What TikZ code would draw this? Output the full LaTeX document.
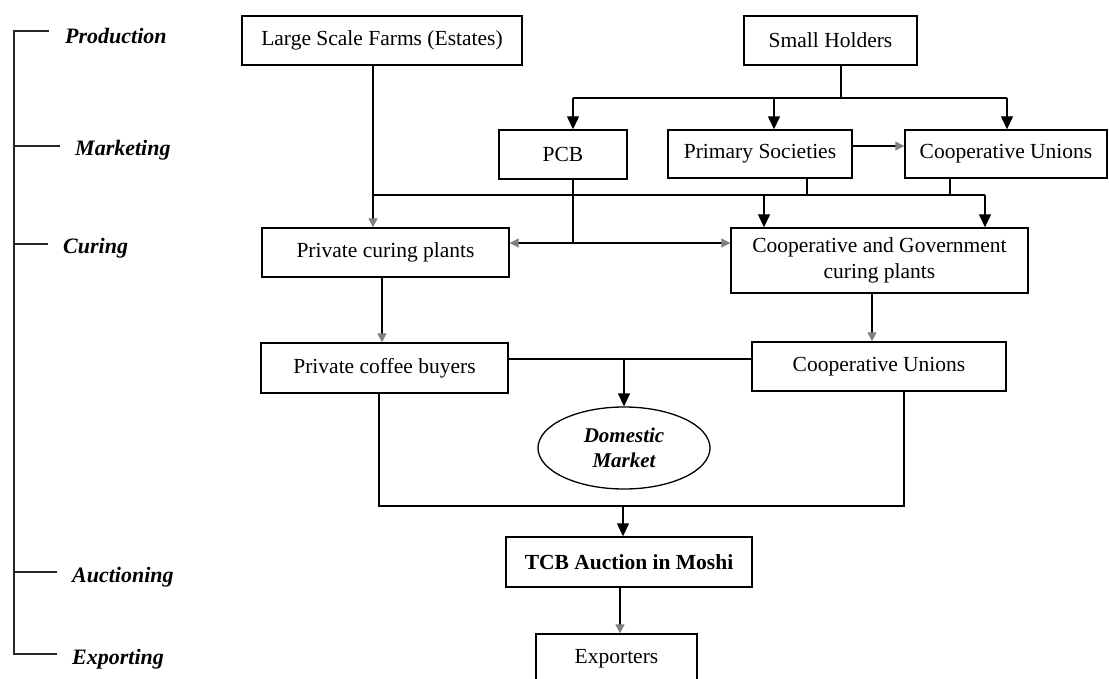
\documentclass[tikz,border=0pt]{standalone}
\usepackage{fontspec}
\setmainfont{Liberation Serif}
\usetikzlibrary{arrows.meta,shapes.geometric}
\begin{document}
\begin{tikzpicture}[x=1pt,y=-1pt,
  box/.style={draw, line width=1.4pt, inner sep=0pt, align=center,
    font=\fontsize{21.5}{26}\selectfont},
  ln/.style={line width=1.3pt},
  arr/.style={ln, -{Triangle[width=12pt,length=13pt]}},
  farr/.style={ln, -{Triangle[width=9pt,length=9pt,color=black!50]}},
  farrboth/.style={ln, {Triangle[width=9pt,length=9pt,color=black!50]}-{Triangle[width=9pt,length=9pt,color=black!50]}},
  stage/.style={anchor=west, inner sep=0pt, font=\fontsize{22}{25}\selectfont\bfseries\itshape},
  tick/.style={line width=1.3pt, black!85}]
\useasboundingbox (0,0) rectangle (1109,679);

% stage axis on the left
\draw[tick] (49,31) -- (14,31) -- (14,654) -- (57,654);
\draw[tick] (14,146) -- (60,146);
\draw[tick] (14,244) -- (48,244);
\draw[tick] (14,572) -- (57,572);
\node[stage] (lprod) at (65,36) {Production};
\node[stage] (lmark) at (75,150) {Marketing};
\node[stage] (lcure) at (63,248) {Curing};
\node[stage] (lauct) at (72,577) {Auctioning};
\node[stage] (lexp)  at (72,659) {Exporting};

% boxes
\node[box, minimum width=280pt, minimum height=49pt] (large) at (382,40.5) {Large Scale Farms (Estates)};
\node[box, minimum width=173pt, minimum height=49pt] (small) at (830.5,40.5) {Small Holders};
\node[box, minimum width=128pt, minimum height=49pt] (pcb) at (563,154.5) {PCB};
\node[box, minimum width=184pt, minimum height=48pt] (primary) at (760,154) {Primary Societies};
\node[box, minimum width=202pt, minimum height=48pt] (cu1) at (1006,154) {Cooperative Unions};
\node[box, minimum width=247pt, minimum height=49pt] (pcp) at (385.5,252.5) {Private curing plants};
\node[box, minimum width=297pt, minimum height=65pt] (cgc) at (879.5,260.5) {Cooperative and Government\\curing plants};
\node[box, minimum width=247pt, minimum height=50pt] (pcbuy) at (384.5,368) {Private coffee buyers};
\node[box, minimum width=254pt, minimum height=49pt] (cu2) at (879,366.5) {Cooperative Unions};
\node[draw, ellipse, line width=1.3pt, inner sep=0pt, minimum width=172pt, minimum height=82pt,
  align=center, font=\fontsize{21}{25}\selectfont\bfseries\itshape] (dm) at (624,448) {Domestic\\Market};
\node[box, minimum width=246pt, minimum height=50pt, font=\fontsize{21.5}{26}\selectfont\bfseries] (tcb) at (629,562) {TCB Auction in Moshi};
\node[box, minimum width=161pt, minimum height=49pt] (exp) at (616.5,658.5) {Exporters};

% small holders fan out to the marketing bodies
\coordinate (sbus) at (841,98);
\coordinate (sbL) at (573,98);
\coordinate (sbM) at (774,98);
\coordinate (sbR) at (1007,98);
\draw[ln] (small.south -| sbus) -- (sbus);
\draw[ln] (sbL) -- (sbR);
\draw[arr] (sbL) -- (sbL |- pcb.north);
\draw[arr] (sbM) -- (sbM |- primary.north);
\draw[arr] (sbR) -- (sbR |- cu1.north);

% primary societies to cooperative unions
\coordinate (pc) at (0,146);
\draw[farr] (primary.east |- pc) -- (cu1.west |- pc);

% collection line towards the curing plants
\coordinate (cbL) at (373,195);
\coordinate (cbM) at (764,195);
\coordinate (cbR) at (985,195);
\coordinate (pd) at (807,195);
\coordinate (ud) at (950,195);
\draw[ln] (large.south -| cbL) -- (cbL);
\draw[farr] (cbL) -- (cbL |- pcp.north);
\draw[ln] (cbL) -- (cbR);
\draw[ln] (primary.south -| pd) -- (pd);
\draw[ln] (cu1.south -| ud) -- (ud);
\draw[arr] (cbM) -- (cbM |- cgc.north);
\draw[arr] (cbR) -- (cbR |- cgc.north);

% PCB supplies both kinds of curing plant
\coordinate (pj) at (573,243);
\draw[ln] (pcb.south -| pj) -- (pj);
\draw[farrboth] (pcp.east |- pj) -- (cgc.west |- pj);

% curing plants to buyers
\coordinate (c382) at (382,0);
\coordinate (c872) at (872,0);
\draw[farr] (pcp.south -| c382) -- (pcbuy.north -| c382);
\draw[farr] (cgc.south -| c872) -- (cu2.north -| c872);

% domestic market
\coordinate (mb) at (0,359);
\coordinate (mj) at (624,359);
\draw[ln] (pcbuy.east |- mb) -- (cu2.west |- mb);
\draw[arr] (mj) -- (dm.north);

% auction
\coordinate (bl) at (379,506);
\coordinate (br) at (904,506);
\coordinate (bj) at (623,506);
\draw[ln] (pcbuy.south -| bl) -- (bl) -- (br) -- (cu2.south -| br);
\draw[arr] (bj) -- (tcb.north -| bj);

% export
\coordinate (tj) at (620,0);
\draw[farr] (tcb.south -| tj) -- (exp.north -| tj);
\end{tikzpicture}
\end{document}
